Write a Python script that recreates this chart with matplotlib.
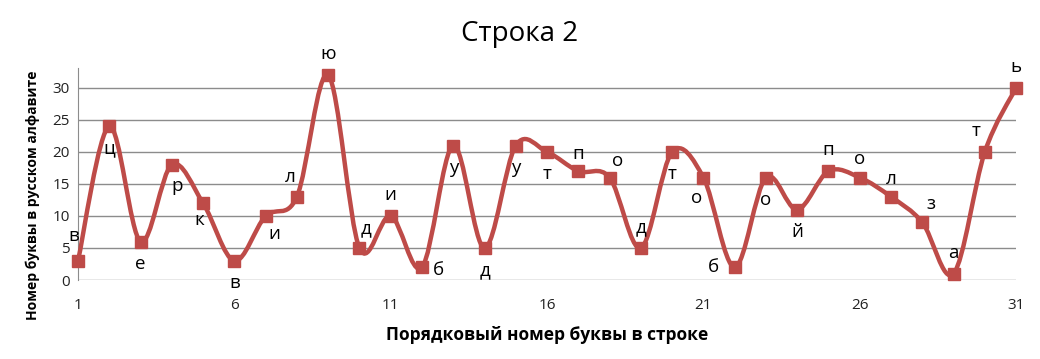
import numpy as np
import matplotlib
matplotlib.use("Agg")
import matplotlib.pyplot as plt
from matplotlib.path import Path
from matplotlib.patches import PathPatch

plt.rcParams['font.family'] = ['Open Sans', 'DejaVu Sans']

# Data
positions = list(range(1, 32))
letters = ['в', 'ц', 'е', 'р', 'к', 'в', 'и', 'л', 'ю', 'д', 'и', 'б', 'у', 'д', 'у', 'т',
           'п', 'о', 'д', 'т', 'о', 'б', 'о', 'й', 'п', 'о', 'л', 'з', 'а', 'т', 'ь']
values = [3, 24, 6, 18, 12, 3, 10, 13, 32, 5, 10, 2, 21, 5, 21, 20,
          17, 16, 5, 20, 16, 2, 16, 11, 17, 16, 13, 9, 1, 20, 30]
xticks = [1, 6, 11, 16, 21, 26, 31]
yticks = [0, 5, 10, 15, 20, 25, 30]

# label offsets in points (dx, dy)
label_offsets = [(-3, 18), (0, -16), (0, -16), (4, -15), (-3, -12), (0, -16), (6, -13), (-5, 14),
                 (0, 15), (5, 14), (0, 15), (12, -2), (0, -16), (0, -16), (0, -16), (0, -16),
                 (0, 12), (6, 12), (0, 15), (0, -16), (-5, -15), (-15, 0), (0, -16), (0, -16),
                 (0, 15), (0, 13), (0, 13), (6, 13), (0, 15), (-6, 15), (0, 15)]

color = '#BE4B48'

fig = plt.figure(figsize=(10.4, 3.59), dpi=100)
ax = fig.add_axes([0.075, 0.22, 0.902, 0.5906])

# Excel-like smoothed line via cubic Bezier segments
x = np.array(positions, dtype=float)
y = np.array(values, dtype=float)
n = len(x)
verts = [(x[0], y[0])]
codes = [Path.MOVETO]
t = 1.0 / 6.0
for i in range(n - 1):
    p0 = (x[i - 1], y[i - 1]) if i > 0 else (x[i], y[i])
    p1 = (x[i], y[i])
    p2 = (x[i + 1], y[i + 1])
    p3 = (x[i + 2], y[i + 2]) if i + 2 < n else (x[i + 1], y[i + 1])
    c1 = (p1[0] + (p2[0] - p0[0]) * t, p1[1] + (p2[1] - p0[1]) * t)
    c2 = (p2[0] - (p3[0] - p1[0]) * t, p2[1] - (p3[1] - p1[1]) * t)
    verts += [c1, c2, p2]
    codes += [Path.CURVE4] * 3
patch = PathPatch(Path(verts, codes), facecolor='none', edgecolor=color, lw=3.2,
                  capstyle='round', joinstyle='round', clip_on=False, zorder=3)
ax.add_patch(patch)
ax.plot(positions, values, linestyle='none', marker='s', markersize=9,
        color=color, clip_on=False, zorder=4)

for xi, yi, lab, (dx, dy) in zip(positions, values, letters, label_offsets):
    ax.annotate(lab, (xi, yi), xytext=(dx, dy), textcoords='offset points',
                ha='center', va='center', fontsize=13.5, color='black', zorder=5)

ax.set_xlim(1, 31)
ax.set_ylim(0, 33.1)
ax.set_xticks(xticks)
ax.set_yticks(yticks)
ax.tick_params(axis='both', length=0, labelsize=11, colors='#222222')
ax.tick_params(axis='x', pad=13)
ax.tick_params(axis='y', pad=6)
ax.yaxis.grid(True, color='#8C8C8C', lw=1)
ax.set_axisbelow(True)
for s in ['top', 'right', 'bottom']:
    ax.spines[s].set_visible(False)
ax.spines['left'].set_color('#8C8C8C')

ax.set_xlabel('Порядковый номер буквы в строке', fontsize=12.5, fontweight='bold')
ax.xaxis.set_label_coords(0.5, -0.215)
ax.set_ylabel('Номер буквы в русском алфавите', fontsize=10, fontweight='bold')
ax.yaxis.set_label_coords(-0.04, 0.40)
fig.suptitle('Строка 2', fontsize=20, y=0.945)

fig.savefig('out.png', dpi=100)
